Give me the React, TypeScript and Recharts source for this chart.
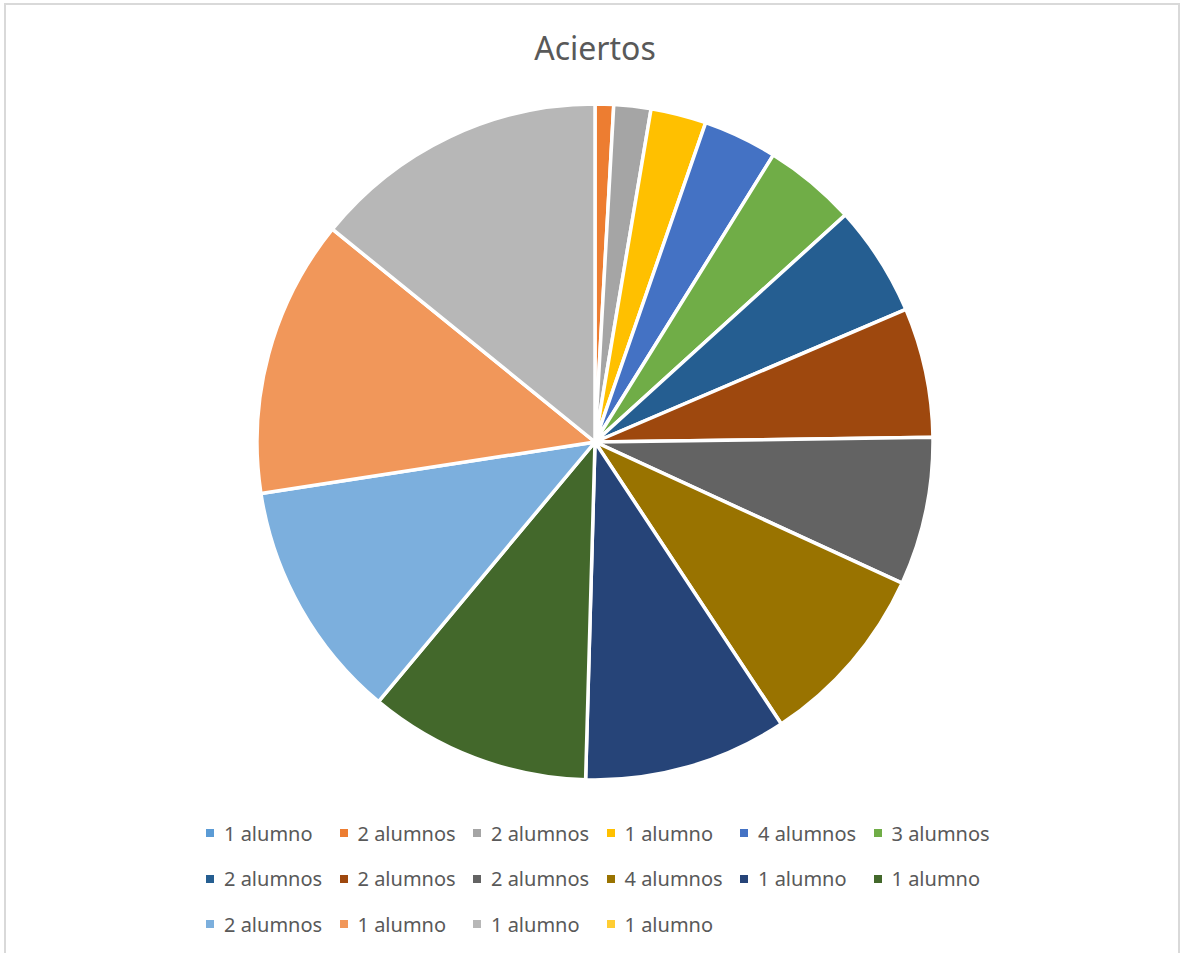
import React from "react";
import { PieChart, Pie, Cell, Legend } from "recharts";

const categories = [
  "1 alumno", "2 alumnos", "2 alumnos", "1 alumno", "4 alumnos", "3 alumnos",
  "2 alumnos", "2 alumnos", "2 alumnos", "4 alumnos", "1 alumno", "1 alumno",
  "2 alumnos", "1 alumno", "1 alumno", "1 alumno",
];
const aciertos = [0, 1, 2, 3, 4, 5, 6, 7, 8, 10, 11, 12, 13, 15, 16, 0];
const colors = [
  "#5B9BD5", "#ED7D31", "#A5A5A5", "#FFC000", "#4472C4", "#70AD47",
  "#255E91", "#9E480E", "#636363", "#997300", "#264478", "#43682B",
  "#7CAFDD", "#F1975A", "#B7B7B7", "#FFCD33",
];

const data = categories.map((name, i) => ({ name, value: aciertos[i], key: `s${i}` }));

const LegendGrid = () => (
  <div style={{ position: "relative", width: 1184, height: 140 }}>
    {categories.map((name, i) => {
      const col = i % 6;
      const row = Math.floor(i / 6);
      return (
        <div
          key={i}
          style={{
            position: "absolute",
            left: 206 + col * 133.5,
            top: row * 45.5,
            display: "flex",
            alignItems: "center",
            height: 26,
            whiteSpace: "nowrap",
          }}
        >
          <span
            style={{
              display: "inline-block",
              width: 8,
              height: 8,
              background: colors[i],
              marginRight: 10,
            }}
          />
          <span style={{ fontFamily: "'Noto Sans', sans-serif", fontSize: 20, color: "#595959" }}>
            {name}
          </span>
        </div>
      );
    })}
  </div>
);

export default function App() {
  return (
    <div style={{ position: "absolute", left: 0, top: 0, width: 1184, height: 953, background: "#fff", overflow: "hidden" }}>
      <div
        style={{
          position: "absolute",
          left: 4,
          top: 3,
          width: 1176,
          height: 955,
          border: "2px solid #d9d9d9",
          boxSizing: "border-box",
        }}
      />
      <div
        style={{
          position: "absolute",
          left: 0,
          top: 26,
          width: 1190,
          textAlign: "center",
          fontFamily: "'Noto Sans', sans-serif",
          fontSize: 32,
          color: "#595959",
          lineHeight: "44px",
        }}
      >
        Aciertos
      </div>
      <div style={{ position: "absolute", left: 0, top: 0 }}>
        <PieChart width={1184} height={953} margin={{ top: 0, right: 0, bottom: 0, left: 0 }}>
          <Pie
            data={data}
            dataKey="value"
            nameKey="name"
            cx={595}
            cy={442}
            outerRadius={338}
            startAngle={90}
            endAngle={-270}
            stroke="#ffffff"
            strokeWidth={3.5}
            isAnimationActive={false}
          >
            {data.map((d, i) => (
              <Cell key={d.key} fill={colors[i]} />
            ))}
          </Pie>
          <Legend
            content={() => <LegendGrid />}
            wrapperStyle={{ position: "absolute", left: 0, top: 820, width: 1184 }}
          />
        </PieChart>
      </div>
    </div>
  );
}
